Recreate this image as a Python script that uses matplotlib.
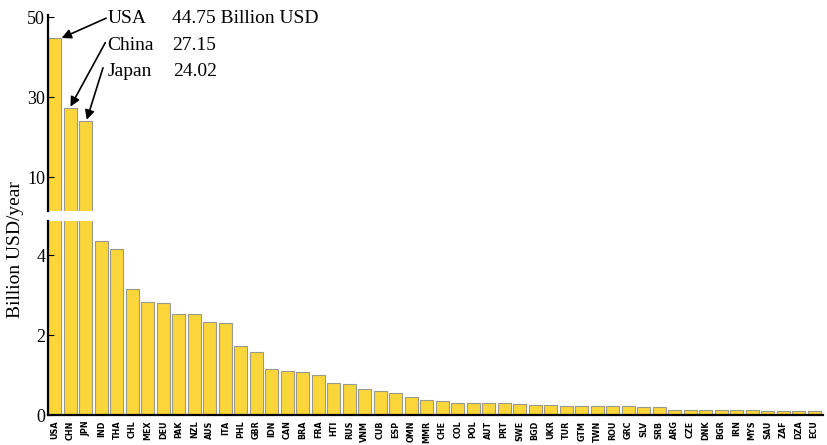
import matplotlib
matplotlib.use("Agg")
import matplotlib.pyplot as plt
import numpy as np

countries = ["USA", "CHN", "JPN", "IND", "THA", "CHL", "MEX", "DEU", "PAK", "NZL",
             "AUS", "ITA", "PHL", "GBR", "IDN", "CAN", "BRA", "FRA", "HTI", "RUS",
             "VNM", "CUB", "ESP", "OMN", "MMR", "CHE", "COL", "POL", "AUT", "PRT",
             "SWE", "BGD", "UKR", "TUR", "GTM", "TWN", "ROU", "GRC", "SLV", "SRB",
             "ARG", "CZE", "DNK", "BGR", "IRN", "MYS", "SAU", "ZAF", "DZA", "ECU"]
values = [44.75, 27.15, 24.02, 4.36, 4.16, 3.14, 2.83, 2.79, 2.52, 2.52,
          2.33, 2.30, 1.72, 1.58, 1.14, 1.11, 1.08, 1.00, 0.80, 0.77,
          0.66, 0.59, 0.56, 0.45, 0.37, 0.35, 0.31, 0.29, 0.29, 0.29,
          0.27, 0.26, 0.25, 0.23, 0.22, 0.22, 0.22, 0.22, 0.21, 0.19,
          0.13, 0.13, 0.12, 0.12, 0.12, 0.12, 0.10, 0.10, 0.10, 0.10]
upper_ticks = [10, 30, 50]
lower_ticks = [0, 2, 4]
ann_names = ["USA", "China", "Japan"]
ann_values = ["44.75 Billion USD", "27.15", "24.02"]

serif = ["Liberation Serif", "DejaVu Serif"]
sans = ["DejaVu Sans"]
bar_color = "#FBD63A"
edge_color = "#9a9a8a"

fig = plt.figure(figsize=(8.27, 4.45), dpi=100)
W, H = 827, 445
left = 48 / W
right = 823 / W
ax_lo = fig.add_axes([left, 1 - 415 / H, right - left, (415 - 221) / H])
ax_hi = fig.add_axes([left, 1 - 211 / H, right - left, (211 - 15) / H])

x = np.arange(len(countries))
vals = np.array(values)
lo_top = 4.85
hi_bottom, hi_top = 1.5, 50.5

ax_lo.bar(x, vals, width=0.84, color=bar_color, edgecolor=edge_color, linewidth=0.8)
mask = vals > lo_top
ax_hi.bar(x[mask], vals[mask], width=0.84, color=bar_color, edgecolor=edge_color, linewidth=0.8)

xlim = (-0.45, len(countries) - 0.42)
for ax in (ax_lo, ax_hi):
    ax.set_xlim(*xlim)
    for s in ("top", "right"):
        ax.spines[s].set_visible(False)
    ax.spines["left"].set_linewidth(1.6)
    ax.tick_params(axis="y", direction="in", length=4, width=0.8, labelsize=13, pad=2)

ax_lo.set_ylim(0, lo_top)
ax_lo.set_yticks(lower_ticks)
ax_lo.set_yticklabels([str(t) for t in lower_ticks], family=serif, fontsize=13)
ax_lo.spines["bottom"].set_linewidth(1.6)
ax_lo.set_xticks(x)
ax_lo.set_xticklabels(countries, rotation=90, family=sans, fontsize=5.8, fontweight="bold")
ax_lo.tick_params(axis="x", length=0, pad=4)

ax_hi.set_ylim(hi_bottom, hi_top)
ax_hi.set_yticks(upper_ticks)
ax_hi.set_yticklabels([str(t) for t in upper_ticks], family=serif, fontsize=13)
ax_hi.spines["bottom"].set_visible(False)
ax_hi.set_xticks([])

fig.text(15 / W, 1 - 250 / H, "Billion USD/year", rotation=90, family=serif,
         fontsize=14, ha="center", va="center")

# annotations
name_y = [49.7, 43.0, 36.3]
text_x = 3.4
val_x = [7.55, 7.55, 7.65]
arrow_start = [(3.3, 49.7), (3.25, 43.6), (3.1, 37.3)]
arrow_end = [(0.43, 44.75), (1.0, 27.6), (2.05, 24.3)]
for i in range(3):
    ax_hi.text(text_x, name_y[i], ann_names[i], family=serif, fontsize=14,
               ha="left", va="center")
    ax_hi.text(val_x[i], name_y[i], ann_values[i], family=serif, fontsize=14,
               ha="left", va="center")
    ax_hi.annotate("", xy=arrow_end[i], xytext=arrow_start[i],
                   arrowprops=dict(arrowstyle="-|>", color="black", lw=1.2,
                                   mutation_scale=14, shrinkA=0, shrinkB=0),
                   annotation_clip=False)

fig.savefig("out.png", dpi=100)
